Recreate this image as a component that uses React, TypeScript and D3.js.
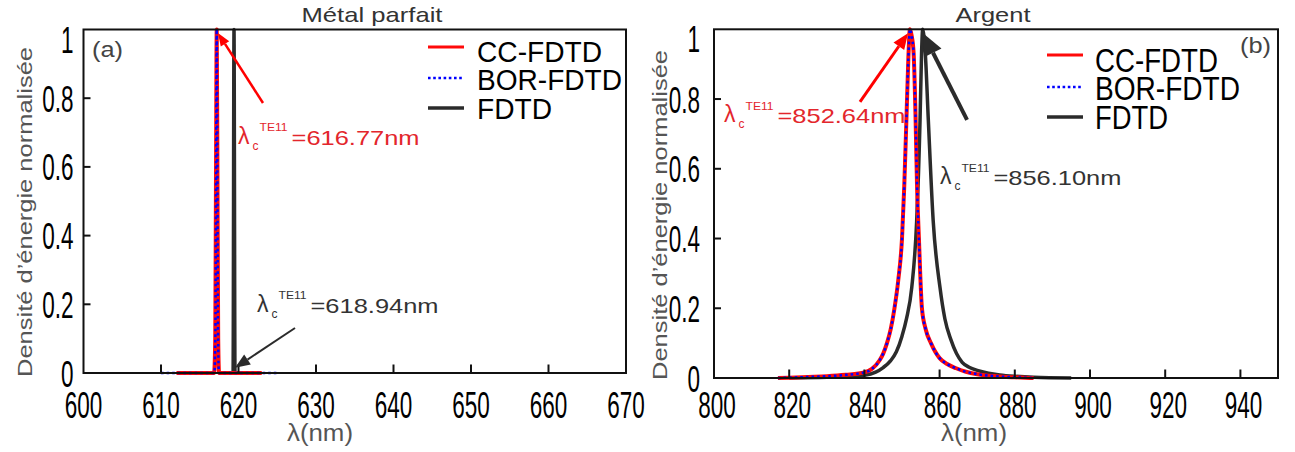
import * as d3 from "d3";

// series names (legend order)
const seriesNames = ["CC-FDTD", "BOR-FDTD", "FDTD"];

// panel (a) : perfect metal, [lambda nm, normalised energy]
const metalCC: [number, number][] = [
  [612, 0], [616.85, 0], [617.0, 0.1], [617.1, 0.6], [617.19, 1.0],
  [617.28, 0.6], [617.38, 0.1], [617.5, 0], [623, 0],
];
const metalBOR: [number, number][] = [
  [610, 0], [616.88, 0], [617.02, 0.12], [617.11, 0.6], [617.19, 1.0],
  [617.27, 0.6], [617.36, 0.12], [617.48, 0], [625, 0],
];
const metalFDTD: [number, number][] = [
  [618.5, 0], [619.3, 0], [619.42, 1.0], [619.55, 0], [621, 0],
];

// panel (b) : silver
const silverCC: [number, number][] = [
  [817, 0], [820, 0.001], [825, 0.003], [830, 0.005], [835, 0.009], [840, 0.016],
  [842, 0.026], [844, 0.05], [845, 0.07], [846, 0.1], [847, 0.14], [848, 0.2],
  [849, 0.28], [850, 0.4], [850.6, 0.55], [851.2, 0.75], [851.7, 0.92], [852.1, 1.0],
  [852.6, 0.98], [853.1, 0.93], [853.6, 0.75], [854, 0.55], [854.5, 0.4], [855.3, 0.2],
  [856.3, 0.14], [857.7, 0.1], [860, 0.057], [862, 0.04], [864.4, 0.028], [867, 0.018],
  [870, 0.011], [875, 0.005], [880, 0.002], [885, 0],
];
const silverBOR: [number, number][] = [
  [817, 0], [820, 0.001], [825, 0.003], [830, 0.005], [835, 0.009], [840, 0.016],
  [842, 0.026], [844, 0.05], [845, 0.07], [846, 0.1], [847, 0.14], [848, 0.2],
  [849, 0.28], [850, 0.4], [850.6, 0.55], [851.2, 0.75], [851.7, 0.92], [852.1, 1.0],
  [852.6, 0.98], [853.1, 0.93], [853.6, 0.75], [854, 0.55], [854.5, 0.4], [855.3, 0.2],
  [856.3, 0.14], [857.7, 0.1], [860, 0.057], [862, 0.04], [864.4, 0.028], [867, 0.018],
  [870, 0.011], [875, 0.005], [880, 0.002], [885, 0],
];
const silverFDTD: [number, number][] = [
  [820, 0], [830, 0.002], [835, 0.004], [840, 0.008], [843, 0.017], [845, 0.03],
  [847, 0.05], [848.5, 0.075], [850, 0.12], [851.2, 0.17], [852.6, 0.26], [853.9, 0.45],
  [854.8, 0.74], [855.2, 0.93], [855.5, 1.0], [856.2, 0.93], [857, 0.74], [858.3, 0.45],
  [860.1, 0.26], [861.4, 0.17], [863, 0.11], [864.5, 0.07], [866, 0.045], [868, 0.03],
  [870, 0.022], [873, 0.014], [876, 0.009], [880, 0.005], [885, 0.002], [895, 0],
];

const metalXTicks = [600, 610, 620, 630, 640, 650, 660, 670];
const silverXTicks = [800, 820, 840, 860, 880, 900, 920, 940];
const yTicks = [0, 0.2, 0.4, 0.6, 0.8, 1];
const yTickLabels = ["0", "0.2", "0.4", "0.6", "0.8", "1"];

// annotations: [tailX, tailY, tipX, tipY] in data units
const metalArrows = [
  { c: "red", w: 2.5, head: [13, 10], pts: [623.16, 0.786, 617.35, 0.99] },
  { c: "#2b2b2b", w: 2, head: [15, 12], pts: [627.29, 0.131, 619.55, 0.015] },
];
const silverArrows = [
  { c: "red", w: 3, head: [16, 13], pts: [838.83, 0.792, 851.6, 0.989] },
  { c: "#2b2b2b", w: 4, head: [22, 19], pts: [867.3, 0.74, 855.6, 0.989] },
];
const metalNotes = [
  { c: "#e3262c", text: "=616.77nm", at: [619.94, 0.664] },
  { c: "#333", text: "=618.94nm", at: [622.39, 0.175] },
];
const silverNotes = [
  { c: "#e3262c", text: "=852.64nm", at: [802.66, 0.731] },
  { c: "#333", text: "=856.10nm", at: [860.1, 0.553] },
];

const FONT = "'Liberation Sans', Arial, sans-serif";
const RED = "#ff0a0a";
const BLUE = "#0000ff";
const DARK = "#2b2b2b";

type Panel = {
  x0: number; x1: number; y0: number; y1: number;
  domain: [number, number]; xTicks: number[];
  cc: [number, number][]; bor: [number, number][]; fdtd: [number, number][];
  arrows: typeof metalArrows; notes: typeof metalNotes;
  title: string; titleX: number; titleLen: number;
  tag: string; tagX: number; tagY: number;
  yLabelX: number; yLabelY: number; yTickRight: number;
  xLabelX: number; xTickShift: number;
  legX: number; legTextX: number; legLineY: number[]; legTextY: number[];
  legSize: number; legLens: number[];
};

const panels: Panel[] = [
  {
    x0: 83.5, x1: 626, y0: 29.5, y1: 373, domain: [600, 670], xTicks: metalXTicks,
    cc: metalCC, bor: metalBOR, fdtd: metalFDTD, arrows: metalArrows, notes: metalNotes,
    title: "Métal parfait", titleX: 372, titleLen: 141,
    tag: "(a)", tagX: 92, tagY: 57,
    yLabelX: 32, yLabelY: 212, yTickRight: 73.5, xLabelX: 320, xTickShift: 0,
    legX: 428, legTextX: 477, legLineY: [47, 78, 108], legTextY: [61.5, 90, 118.5],
    legSize: 30, legLens: [125, 145, 75],
  },
  {
    x0: 714, x1: 1278, y0: 29.3, y1: 378, domain: [800, 950], xTicks: silverXTicks,
    cc: silverCC, bor: silverBOR, fdtd: silverFDTD, arrows: silverArrows, notes: silverNotes,
    title: "Argent", titleX: 993, titleLen: 75,
    tag: "(b)", tagX: 1240, tagY: 53,
    yLabelX: 667, yLabelY: 215, yTickRight: 700, xLabelX: 974, xTickShift: 3,
    legX: 1047, legTextX: 1095, legLineY: [55, 87, 117], legTextY: [71.5, 99.5, 128.5],
    legSize: 33, legLens: [123, 145, 73],
  },
];

function Arrow({ a, x, y }: { a: (typeof metalArrows)[0]; x: any; y: any }) {
  const [tx, ty, hx, hy] = a.pts;
  const x1 = x(tx), y1 = y(ty), x2 = x(hx), y2 = y(hy);
  const ang = Math.atan2(y2 - y1, x2 - x1);
  const [len, wid] = a.head;
  const bx = x2 - len * Math.cos(ang), by = y2 - len * Math.sin(ang);
  const px = -Math.sin(ang) * wid / 2, py = Math.cos(ang) * wid / 2;
  return (
    <g>
      <line x1={x1} y1={y1} x2={bx} y2={by} stroke={a.c} strokeWidth={a.w} />
      <polygon points={`${x2},${y2} ${bx + px},${by + py} ${bx - px},${by - py}`} fill={a.c} />
    </g>
  );
}

function Note({ n, x, y }: { n: (typeof metalNotes)[0]; x: any; y: any }) {
  const px = x(n.at[0]), py = y(n.at[1]);
  return (
    <g fill={n.c} fontFamily={FONT}>
      <text x={px} y={py - 1} fontSize={23}>λ</text>
      <text x={px + 14.5} y={py + 5} fontSize={12}>c</text>
      <text x={px + 21.5} y={py - 13.5} fontSize={11.5} textLength={28} lengthAdjust="spacingAndGlyphs">TE11</text>
      <text x={px + 53.5} y={py} fontSize={21} textLength={128} lengthAdjust="spacingAndGlyphs">{n.text}</text>
    </g>
  );
}

function PanelChart({ p }: { p: Panel }) {
  const x = d3.scaleLinear().domain(p.domain).range([p.x0, p.x1]);
  const y = d3.scaleLinear().domain([0, 1]).range([p.y1, p.y0]);
  const line = d3.line<[number, number]>().x((d) => x(d[0])).y((d) => y(d[1])).curve(d3.curveMonotoneX);
  const path = (d: [number, number][]) => line(d) || "";
  return (
    <g>
      <clipPath id={`clip-${p.tag}`}>
        <rect x={p.x0} y={p.y0 - 3} width={p.x1 - p.x0} height={p.y1 - p.y0 + 4} />
      </clipPath>
      <g clipPath={`url(#clip-${p.tag})`} fill="none" strokeLinejoin="round">
        <path d={path(p.fdtd)} stroke={DARK} strokeWidth={3.5} />
        <path d={path(p.cc)} stroke={RED} strokeWidth={4} />
        <path d={path(p.bor)} stroke={BLUE} strokeWidth={2.5} strokeDasharray="2.6 3" />
      </g>
      {/* axes box */}
      <rect x={p.x0} y={p.y0} width={p.x1 - p.x0} height={p.y1 - p.y0} fill="none" stroke="#111" strokeWidth={2} />
      {p.xTicks.slice(1).map((t) => (
        <line key={t} x1={x(t)} x2={x(t)} y1={p.y1} y2={p.y1 - 8.5} stroke="#111" strokeWidth={2} />
      ))}
      {yTicks.slice(1, -1).map((t) => (
        <line key={t} x1={p.x0} x2={p.x0 + 7} y1={y(t)} y2={y(t)} stroke="#111" strokeWidth={2} />
      ))}
      {p.xTicks.map((t) => (
        <text key={t} transform={`translate(${x(t) + p.xTickShift},${417.5}) scale(0.6,1)`}
          textAnchor="middle" fontSize={37.5} fontFamily={FONT} fill="#000">{t}</text>
      ))}
      {yTicks.map((t, i) => (
        <text key={t} transform={`translate(${p.yTickRight},${Math.max(y(t), p.y0 + 9.5) + 13.5}) scale(0.6,1)`}
          textAnchor="end" fontSize={37.5} fontFamily={FONT} fill="#000">{yTickLabels[i]}</text>
      ))}
      {/* annotations */}
      {p.arrows.map((a, i) => <Arrow key={i} a={a} x={x} y={y} />)}
      {p.notes.map((n, i) => <Note key={i} n={n} x={x} y={y} />)}
      {/* titles */}
      <text x={p.titleX} y={21.5} textAnchor="middle" fontSize={21} fontFamily={FONT} fill="#333"
        textLength={p.titleLen} lengthAdjust="spacingAndGlyphs">{p.title}</text>
      <text x={p.tagX} y={p.tagY} fontSize={22} fontFamily={FONT} fill="#444"
        textLength={31} lengthAdjust="spacingAndGlyphs">{p.tag}</text>
      <text transform={`translate(${p.yLabelX},${p.yLabelY}) rotate(-90)`} textAnchor="middle" fontSize={21}
        fontFamily={FONT} fill="#555" textLength={330} lengthAdjust="spacingAndGlyphs">Densité d’énergie normalisée</text>
      <text x={p.xLabelX} y={441} textAnchor="middle" fontSize={23} fontFamily={FONT} fill="#555"
        textLength={66} lengthAdjust="spacingAndGlyphs">λ(nm)</text>
      {/* legend */}
      {seriesNames.map((s, i) => (
        <g key={s}>
          <line x1={p.legX} x2={p.legX + 36} y1={p.legLineY[i]} y2={p.legLineY[i]}
            stroke={i === 0 ? RED : i === 1 ? BLUE : DARK} strokeWidth={i === 1 ? 2.5 : i === 0 ? 3 : 3.5}
            strokeDasharray={i === 1 ? "2.6 2.6" : undefined} />
          <text x={p.legTextX} y={p.legTextY[i]} fontSize={p.legSize} fontFamily={FONT} fill="#000"
            textLength={p.legLens[i]} lengthAdjust="spacingAndGlyphs">{s}</text>
        </g>
      ))}
    </g>
  );
}

export default function App() {
  return (
    <div style={{ position: "absolute", left: 0, top: 0 }}>
      <svg width={1295} height={452} style={{ display: "block", background: "#fff" }}>
        {panels.map((p) => <PanelChart key={p.tag} p={p} />)}
      </svg>
    </div>
  );
}
